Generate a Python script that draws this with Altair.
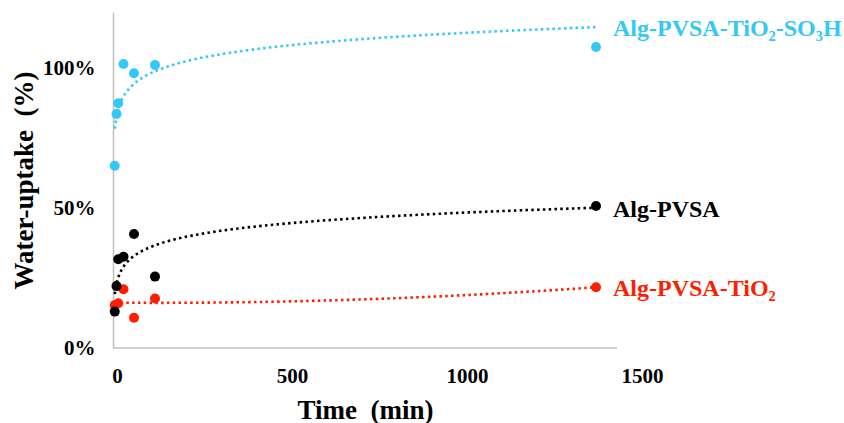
import altair as alt
import pandas as pd

# Series names
name_blue = "Alg-PVSA-TiO₂-SO₃H"
name_black = "Alg-PVSA"
name_red = "Alg-PVSA-TiO₂"

# Time (min) and water uptake (%)
t_blue = [5, 10, 15, 30, 60, 120, 1380]
wu_blue = [65.1, 83.6, 87.4, 101.4, 98.1, 101.1, 107.5]

t_black = [5, 10, 15, 30, 60, 120, 1380]
wu_black = [13.0, 22.1, 31.7, 32.6, 40.7, 25.5, 50.7]

t_red = [5, 15, 30, 60, 120, 1380]
wu_red = [15.3, 16.0, 21.0, 10.8, 17.7, 21.7]

x_ticks = [0, 500, 1000, 1500]
x_axis_end = 1440
y_ticks = [0, 50, 100]

series_names = [name_blue, name_black, name_red]
series_colors = ["#33C8F8", "#000000", "#FF1E00"]

rows = []
for name, ts, ws in [(name_red, t_red, wu_red), (name_black, t_black, wu_black), (name_blue, t_blue, wu_blue)]:
    for t, w in zip(ts, ws):
        rows.append({"t": t, "wu": w, "series": name})
df = pd.DataFrame(rows)

FONT = "Liberation Serif"
AXIS_GREY = "#BFBFBF"

color = alt.Color("series:N", scale=alt.Scale(domain=series_names, range=series_colors), legend=None)

x_enc = alt.X(
    "t:Q",
    scale=alt.Scale(domain=[0, 1500], nice=False, zero=False),
    axis=alt.Axis(
        values=x_ticks, format="d", title="Time\u00a0 (min)", grid=False, ticks=False, tickSize=0,
        domain=False,
        labelFont=FONT, labelFontSize=21, labelFontWeight="bold", labelColor="#000000",
        labelPadding=17, labelOffset=4, labelFlush=False, labelOverlap=False, labelBound=False,
        titleFont=FONT, titleFontSize=27, titleFontWeight="bold", titleColor="#000000",
        titleX=252, titleY=62, titleBaseline="middle", titleAnchor="middle", titleAlign="center",
    ),
)
y_enc = alt.Y(
    "wu:Q",
    scale=alt.Scale(domain=[0, 120], nice=False, zero=True),
    axis=alt.Axis(
        values=y_ticks, labelExpr="datum.value + '%'", title="Water-uptake\u00a0 (%)",
        grid=False, ticks=False, tickSize=0,
        domain=True, domainColor=AXIS_GREY, domainWidth=1.5,
        labelFont=FONT, labelFontSize=21, labelFontWeight="bold", labelColor="#000000",
        labelPadding=18, labelOverlap=False, labelBound=False,
        titleFont=FONT, titleFontSize=27, titleFontWeight="bold", titleColor="#000000",
        titleX=-89, titleY=168, titleBaseline="middle", titleAlign="center", titleAngle=270,
    ),
)

base = alt.Chart(df)

# x-axis line (stops short of the last tick label, as in the reference)
x_axis_line = alt.Chart(pd.DataFrame({"a": [0], "b": [x_axis_end], "y": [0]})).mark_rule(
    color=AXIS_GREY, strokeWidth=1.5
).encode(x=alt.X("a:Q"), x2="b:Q", y=alt.Y("y:Q"))

points = base.mark_circle(size=100, opacity=1).encode(x=x_enc, y=y_enc, color=color)

dash = [2.5, 3.3]

log_fit = base.transform_filter(
    alt.datum.series != name_red
).transform_regression("t", "wu", method="log", groupby=["series"])

poly_fit = base.transform_filter(
    alt.datum.series == name_red
).transform_regression("t", "wu", method="poly", order=2, groupby=["series"])

log_lines = log_fit.mark_line(strokeDash=dash, strokeWidth=2.6).encode(
    x=alt.X("t:Q"), y=alt.Y("wu:Q"), color=color
)
poly_lines = poly_fit.mark_line(strokeDash=dash, strokeWidth=2.6).encode(
    x=alt.X("t:Q"), y=alt.Y("wu:Q"), color=color
)


def end_labels(fit):
    return fit.transform_joinaggregate(
        tmax="max(t)", groupby=["series"]
    ).transform_filter(
        "datum.t == datum.tmax"
    ).mark_text(
        align="left", baseline="middle", dx=17, dy=2, font=FONT, fontSize=24, fontWeight="bold"
    ).encode(x=alt.X("t:Q"), y=alt.Y("wu:Q"), text="series:N", color=color)


chart = alt.layer(
    x_axis_line, points, log_lines, poly_lines, end_labels(log_fit), end_labels(poly_fit)
).properties(
    width=525, height=336,
    autosize=alt.AutoSizeParams(type="none"),
    padding={"left": 113, "top": 12, "right": 206, "bottom": 75},
    background="white",
).configure_view(stroke=None)

chart.save("out.html", embed_options={"renderer": "svg", "actions": False})
